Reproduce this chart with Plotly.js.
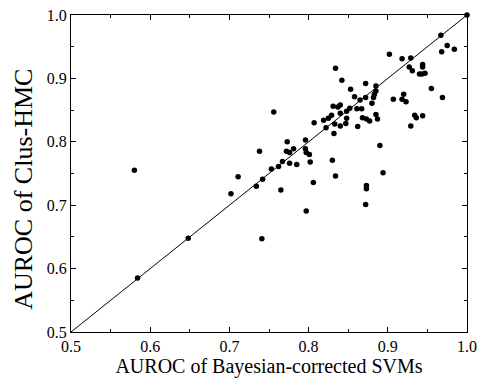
<!DOCTYPE html>
<html>
<head>
<meta charset="utf-8">
<script src="https://cdn.plot.ly/plotly-3.0.1.min.js"></script>
<style>html,body{margin:0;padding:0;background:#fff;}#chart{width:480px;height:383px;}</style>
</head>
<body>
<div id="chart"></div>
<script>
// AUROC of Bayesian-corrected SVMs (x) vs AUROC of Clus-HMC (y)
const svmAuroc = [
  0.580, 0.584, 0.648, 0.702, 0.711, 0.738, 0.734, 0.742, 0.741, 0.753,
  0.762, 0.767, 0.765, 0.773, 0.772, 0.776, 0.781, 0.776, 0.785, 0.796,
  0.797, 0.801, 0.796, 0.802, 0.806, 0.797, 0.756, 0.807, 0.822, 0.832,
  0.830, 0.834, 0.873, 0.873, 0.872, 0.894, 0.890, 0.819, 0.825, 0.829,
  0.840, 0.848, 0.833, 0.840, 0.847, 0.848, 0.831, 0.840, 0.837, 0.852,
  0.861, 0.867, 0.834, 0.842, 0.853, 0.872, 0.885, 0.885, 0.883, 0.882,
  0.872, 0.858, 0.865, 0.880, 0.907, 0.868, 0.873, 0.877, 0.885, 0.887,
  0.862, 0.902, 0.918, 0.929, 0.927, 0.931, 0.944, 0.944, 0.940, 0.943,
  0.947, 0.955, 0.969, 0.920, 0.918, 0.923, 0.934, 0.936, 0.944, 0.929,
  0.967, 0.975, 0.968, 0.984, 1.000
];
const clusAuroc = [
  0.755, 0.585, 0.648, 0.718, 0.745, 0.785, 0.730, 0.741, 0.647, 0.757,
  0.761, 0.769, 0.724, 0.800, 0.785, 0.783, 0.789, 0.766, 0.764, 0.789,
  0.783, 0.780, 0.803, 0.768, 0.736, 0.691, 0.847, 0.830, 0.822, 0.813,
  0.771, 0.746, 0.731, 0.726, 0.701, 0.751, 0.794, 0.834, 0.837, 0.842,
  0.845, 0.848, 0.828, 0.825, 0.829, 0.837, 0.856, 0.858, 0.855, 0.853,
  0.852, 0.852, 0.916, 0.897, 0.883, 0.892, 0.888, 0.880, 0.875, 0.870,
  0.870, 0.871, 0.866, 0.861, 0.867, 0.838, 0.836, 0.833, 0.843, 0.836,
  0.824, 0.938, 0.931, 0.932, 0.918, 0.912, 0.922, 0.918, 0.907, 0.907,
  0.908, 0.884, 0.870, 0.875, 0.867, 0.863, 0.842, 0.838, 0.841, 0.825,
  0.968, 0.952, 0.942, 0.946, 1.000
];
const diagonal = [0.5, 1.0];
const xTitle = "AUROC of Bayesian-corrected SVMs";
const yTitle = "AUROC of Clus-HMC";

const serif = "'Liberation Serif', 'DejaVu Serif', serif";

const traces = [
  {
    x: diagonal, y: diagonal, mode: "lines", type: "scatter",
    line: {color: "#000", width: 1}, hoverinfo: "skip", showlegend: false
  },
  {
    x: svmAuroc, y: clusAuroc, mode: "markers", type: "scatter",
    marker: {color: "#000", size: 5.5}, showlegend: false, cliponaxis: false
  }
];

const axisCommon = {
  range: [0.5, 1.0], dtick: 0.1, tick0: 0.5, tickformat: ".1f",
  ticks: "inside", ticklen: 5, tickwidth: 1, tickcolor: "#000",
  minor: {dtick: 0.05, ticks: "inside", ticklen: 3, tickwidth: 1, tickcolor: "#000"},
  showline: true, linecolor: "#000", linewidth: 1, mirror: "ticks",
  showgrid: false, zeroline: false,
  tickfont: {family: serif, size: 16, color: "#000"}
};

const layout = {
  width: 480, height: 383,
  margin: {l: 71, r: 13, t: 15, b: 51},
  paper_bgcolor: "#fff", plot_bgcolor: "#fff",
  showlegend: false,
  xaxis: Object.assign({}, axisCommon, {
    title: {text: xTitle, font: {family: serif, size: 20, color: "#000"}, standoff: 4}
  }),
  yaxis: Object.assign({}, axisCommon),
  annotations: [{
    text: yTitle, textangle: -90, showarrow: false,
    xref: "paper", yref: "paper", x: -0.12, y: 0.45,
    xanchor: "center", yanchor: "middle",
    font: {family: serif, size: 26, color: "#000"}
  }]
};

Plotly.newPlot("chart", traces, layout, {displayModeBar: false, staticPlot: true});
</script>
</body>
</html>
